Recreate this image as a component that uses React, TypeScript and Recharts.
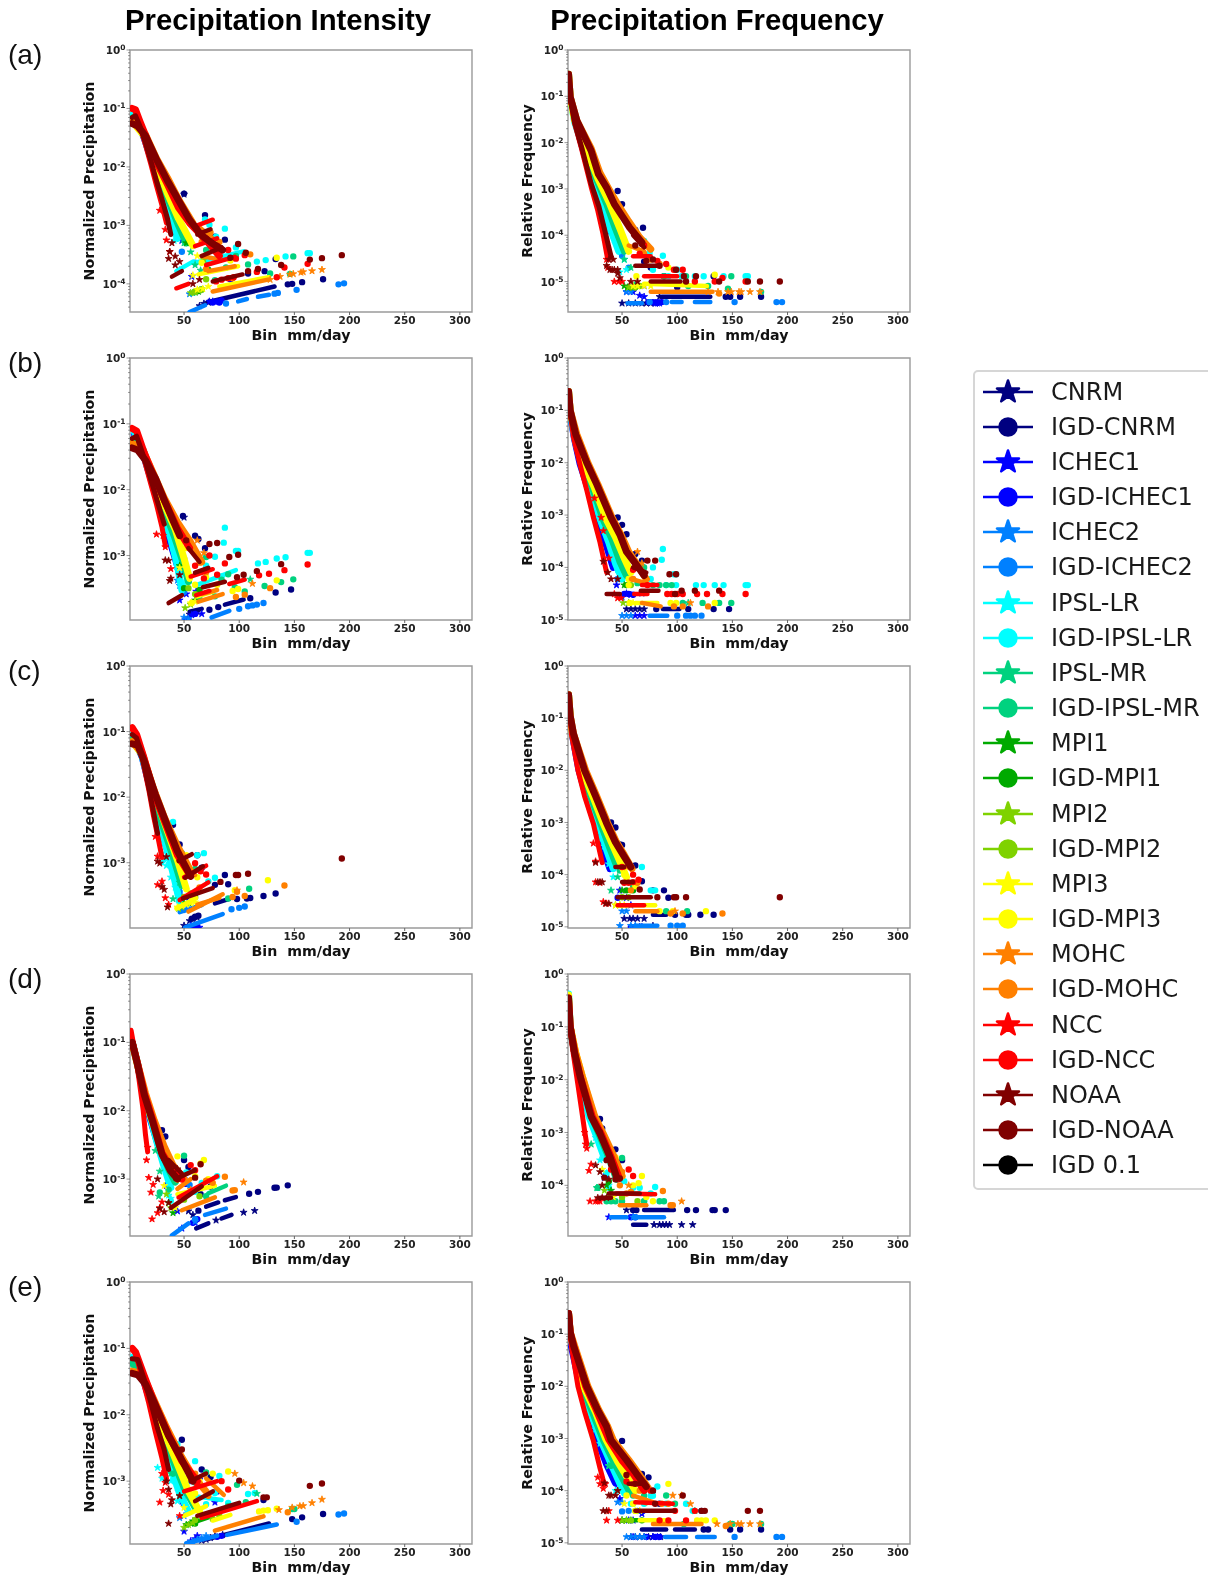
import { ScatterChart, Scatter, XAxis, YAxis, ReferenceArea, Symbols } from 'recharts';

type Pair = [number, number];
type Head = [number, Pair[]];

const seriesNames = ['CNRM', 'IGD-CNRM', 'ICHEC1', 'IGD-ICHEC1', 'ICHEC2', 'IGD-ICHEC2', 'IPSL-LR', 'IGD-IPSL-LR', 'IPSL-MR', 'IGD-IPSL-MR', 'MPI1', 'IGD-MPI1', 'MPI2', 'IGD-MPI2', 'MPI3', 'IGD-MPI3', 'MOHC', 'IGD-MOHC', 'NCC', 'IGD-NCC', 'NOAA', 'IGD-NOAA', 'IGD 0.1'];
const seriesColors = ['#000080', '#000080', '#0000ff', '#0000ff', '#0080ff', '#0080ff', '#00ffff', '#00ffff', '#00d27f', '#00d27f', '#00aa00', '#00aa00', '#7fd200', '#7fd200', '#ffff00', '#ffff00', '#ff8000', '#ff8000', '#ff0000', '#ff0000', '#800000', '#800000', '#000000'];
const rowLetters = ['(a)', '(b)', '(c)', '(d)', '(e)'];
const rowTops = [50, 358, 666, 974, 1282];
const xTicks = [50, 100, 150, 200, 250, 300];
// axis floors, in parts per million
const intensityFloors = [33, 105, 101, 147, 113];
const frequencyFloors = [2.2, 9.9, 9.5, 11, 9.5];

// all y values below are in parts per million (1 = 1e-6)
// heads: dense runs of bins, drawn as one thick stroke per run
const headsIntA: Head[] = [
  [2, [[4, 70000], [10, 50000], [15, 27000], [20, 14000], [30, 3500], [40, 1200], [46, 650]]],
  [6, [[4, 80000], [10, 55000], [15, 28000], [20, 14000], [30, 3300], [38, 1200], [44, 600]]],
  [8, [[4, 70000], [15, 30000], [25, 9000], [35, 3000], [45, 1000], [52, 500]]],
  [14, [[3, 60000], [15, 32000], [25, 11000], [35, 3500], [45, 1300], [58, 450]]],
  [16, [[3, 60000], [15, 36000], [25, 14000], [35, 6500], [45, 2800], [58, 1100]]],
  [18, [[3, 100000], [6, 92000], [10, 50000], [15, 24000], [20, 11000], [25, 4800], [30, 2200], [34, 1100]]],
  [19, [[3, 100000], [6, 95000], [10, 60000], [15, 35000], [25, 12000], [35, 5000], [45, 2000], [55, 1100], [62, 800], [72, 500], [82, 300]]],
  [20, [[3, 70000], [6, 75000], [10, 50000], [15, 26000], [20, 12500], [25, 5800], [30, 2800], [35, 1300], [38, 700]]],
  [21, [[3, 55000], [8, 50000], [15, 34000], [25, 13500], [35, 5800], [45, 2700], [55, 1250], [65, 700], [75, 500], [85, 380]]],
  [1, [[72, 49], [132, 90]]],
  [4, [[55, 33], [69, 43]]],
  [5, [[99, 50], [107, 55]]],
  [5, [[117, 60], [127, 65]]],
  [6, [[43, 165], [58, 240]]],
  [7, [[60, 230], [104, 360]]],
  [15, [[63, 145], [99, 200]]],
  [15, [[82, 90], [127, 130]]],
  [17, [[76, 74], [126, 118]]],
  [17, [[62, 1000], [78, 560]]],
  [17, [[72, 165], [96, 200]]],
  [17, [[66, 300], [82, 260]]],
  [18, [[43, 84], [54, 100]]],
  [19, [[60, 440], [80, 600]]],
  [19, [[70, 210], [96, 290]]],
  [19, [[62, 1000], [76, 1250]]],
  [20, [[39, 133], [48, 165]]],
  [21, [[76, 110], [103, 145]]],
  [21, [[66, 300], [84, 420]]],
  [21, [[62, 700], [74, 860]]],
];
// marks: isolated bins, one marker per reading
const marksIntA: Pair[][] = [
  [[64, 42], [68, 46], [72, 48], [50, 3400]],
  [[144, 98], [148, 100], [157, 107], [176, 120], [50, 3500], [69, 1500], [78, 640], [87, 570], [133, 265], [123, 165], [108, 150]],
  [[46, 680], [48, 550], [57, 133], [46, 170], [73, 50], [76, 50]],
  [[76, 48], [80, 50], [82, 48], [84, 52], [92, 120]],
  [[55, 67], [60, 72]],
  [[88, 46], [132, 68], [135, 70], [152, 79], [190, 98], [195, 102], [48, 355], [60, 230], [70, 240]],
  [[40, 800], [41, 550], [44, 900]],
  [[87, 880], [69, 1270], [73, 1030], [97, 420], [116, 240], [124, 255], [142, 295], [162, 335], [164, 335], [79, 640]],
  [[50, 500], [56, 350], [60, 210], [65, 170], [58, 70]],
  [[149, 295], [108, 215], [97, 300], [128, 150], [146, 148], [88, 190], [78, 115], [70, 380]],
  [[52, 500], [60, 72], [63, 74]],
  [[62, 75], [66, 80], [72, 175]],
  [[56, 70], [60, 72], [64, 78], [68, 260]],
  [[60, 74], [66, 80], [70, 120]],
  [[62, 80], [67, 82], [72, 90], [58, 140], [62, 300]],
  [[134, 280], [66, 230], [76, 460], [92, 250]],
  [[128, 118], [137, 133], [146, 145], [149, 148], [156, 157], [158, 160], [166, 166], [175, 175]],
  [[70, 180], [94, 125], [66, 520], [74, 760], [82, 520], [110, 320]],
  [[28, 1800], [33, 850], [34, 560], [37, 355]],
  [[162, 220], [141, 190], [134, 130], [97, 270], [90, 380], [82, 340], [105, 310], [116, 160], [79, 110], [84, 118], [90, 125], [95, 130], [70, 600], [80, 450]],
  [[58, 100], [64, 118], [39, 500], [37, 355], [36, 270], [42, 295], [46, 240], [42, 210]],
  [[99, 480], [106, 340], [138, 210], [164, 260], [175, 275], [193, 310], [117, 180], [108, 165], [92, 280]],
];

const headsFreqA: Head[] = [
  [2, [[3, 90000], [8, 28000], [16, 5500], [25, 1300], [33, 400], [40, 120]]],
  [6, [[1.5, 300000], [3, 95000], [7, 28000], [16, 6500], [25, 1500], [33, 470], [39, 145], [47, 45]]],
  [8, [[3, 95000], [8, 30000], [17, 6500], [27, 1600], [36, 480], [44, 140], [52, 45]]],
  [14, [[1.5, 300000], [3, 95000], [7, 30000], [18, 6800], [28, 1700], [39, 470], [48, 140], [56, 45]]],
  [17, [[1.5, 300000], [3, 97000], [9, 30000], [22, 7500], [30, 2200], [38, 1000], [46, 470], [56, 200], [66, 90], [76, 50]]],
  [18, [[1.5, 300000], [3, 90000], [7, 26000], [13, 7800], [22, 1100], [28, 340], [33, 100], [37, 30]]],
  [20, [[1.5, 280000], [3, 90000], [7, 27000], [14, 7000], [22, 1300], [29, 420], [35, 110], [40, 35]]],
  [21, [[1.5, 300000], [3, 97000], [9, 30000], [22, 6700], [28.5, 2100], [36, 1070], [43, 470], [51, 240], [57, 145], [68, 70]]],
  [1, [[86, 4.7], [130, 4.7]]],
  [4, [[55, 3.4], [68, 3.4]]],
  [5, [[95, 3.6], [104, 3.6]]],
  [5, [[116, 3.6], [130, 3.6]]],
  [15, [[70, 9], [127, 8]]],
  [17, [[76, 6], [132, 6]]],
  [17, [[56, 60], [70, 45]]],
  [19, [[70, 13], [100, 13]]],
  [19, [[60, 35], [76, 35]]],
  [21, [[76, 10], [103, 10]]],
  [21, [[62, 22], [82, 22]]],
  [21, [[60, 100], [70, 55]]],
];
const marksFreqA: Pair[][] = [
  [[50, 3.4], [56, 3.4], [62, 3.4], [68, 3.4], [72, 3.4], [76, 3.4], [80, 3.4], [84, 4.7]],
  [[46, 900], [50, 470], [62, 130], [69, 145], [144, 4.7], [148, 4.7], [157, 4.7], [176, 4.7], [70, 27], [76, 20], [88, 13], [100, 7.5], [133, 13]],
  [[54, 6], [60, 6], [66, 5], [70, 4.7], [80, 3.4], [82, 3.4], [84, 3.4], [70, 8]],
  [[74, 3.6], [78, 3.6], [82, 3.6], [86, 3.6]],
  [[54, 6], [58, 6]],
  [[75, 3.6], [90, 3.6], [152, 3.6], [190, 3.6], [195, 3.6], [50, 36], [56, 20]],
  [[38, 130], [43, 80], [48, 50], [52, 30], [54, 18], [48, 16]],
  [[87, 36], [70, 75], [75, 42], [100, 18], [116, 13], [124, 13], [142, 13], [162, 13], [164, 13], [78, 18], [92, 13], [104, 13]],
  [[52, 30], [58, 20], [62, 9]],
  [[149, 13], [108, 13], [110, 8], [128, 8], [146, 7], [88, 13], [176, 6]],
  [[52, 8], [55, 7.5]],
  [[58, 7.5], [62, 7.5]],
  [[56, 7.5], [60, 7.5]],
  [[62, 7.5], [66, 8]],
  [[60, 8], [64, 8], [70, 8], [76, 8]],
  [[63, 13], [134, 14], [92, 20]],
  [[128, 6], [137, 6], [146, 6], [149, 6], [156, 6], [158, 6], [166, 6], [175, 6]],
  [[138, 5.5], [70, 40], [76, 30], [84, 24]],
  [[43, 10], [47, 10], [50, 10], [34, 90], [36, 30], [37, 20]],
  [[162, 10], [141, 12], [134, 10], [97, 18], [90, 24], [82, 28], [105, 18], [116, 10], [70, 60], [66, 40]],
  [[39, 18], [41, 18], [43, 18], [46, 18], [48, 12], [38, 30], [36, 22], [42, 30], [46, 15], [58, 10], [64, 10]],
  [[99, 18], [106, 13], [138, 10], [164, 10], [175, 10], [193, 10], [117, 13], [108, 10], [72, 28], [78, 30], [84, 22], [62, 60], [68, 65]],
];

const headsIntB: Head[] = [
  [2, [[5, 70000], [13, 35000], [21, 13000], [30, 4000], [38, 1500], [46, 550]]],
  [6, [[5, 75000], [12, 40000], [20, 15000], [30, 5000], [38, 1800], [44, 700], [48, 300]]],
  [8, [[4, 55000], [13, 40000], [22, 14000], [31, 5500], [41, 2000], [49, 800], [54, 400]]],
  [14, [[3, 50000], [12, 42000], [22, 15000], [32, 6000], [42, 2500], [50, 900], [55, 450]]],
  [17, [[3, 50000], [12, 42000], [22, 18000], [32, 7500], [44, 3200], [55, 1700], [66, 800]]],
  [18, [[3, 85000], [7, 75000], [14, 28000], [20, 12000], [25, 6000], [30, 2700], [33, 1400]]],
  [19, [[3, 85000], [7, 78000], [14, 36000], [22, 17000], [32, 7000], [44, 2600], [55, 1300]]],
  [20, [[3, 60000], [7, 65000], [14, 30000], [20, 14000], [26, 6500], [32, 3000]]],
  [21, [[3, 43000], [8, 40000], [15, 28000], [24, 15000], [32, 7000], [40, 3400], [46, 2000]]],
  [1, [[55, 140], [66, 155]]],
  [1, [[87, 180], [104, 215]]],
  [5, [[75, 115], [91, 145]]],
  [7, [[60, 350], [97, 600]]],
  [15, [[62, 240], [76, 280]]],
  [17, [[63, 200], [85, 260]]],
  [17, [[66, 260], [80, 300]]],
  [17, [[58, 1300], [66, 800]]],
  [19, [[61, 250], [73, 290]]],
  [19, [[91, 370], [105, 430]]],
  [19, [[56, 480], [76, 620]]],
  [20, [[36, 190], [48, 250]]],
  [21, [[67, 330], [87, 400]]],
  [21, [[54, 1300], [64, 800]]],
  [21, [[60, 550], [72, 650]]],
];
const marksIntB: Pair[][] = [
  [[55, 128], [58, 135], [62, 140], [50, 3800]],
  [[73, 150], [81, 165], [110, 225], [133, 275], [147, 305], [63, 1780], [69, 1290], [49, 4000], [60, 2000]],
  [[45, 660], [39, 1650], [52, 260], [61, 285], [46, 210], [57, 125], [51, 105], [66, 130], [42, 1300]],
  [[54, 110], [60, 130], [50, 900]],
  [[46, 350], [54, 110], [50, 115], [44, 420]],
  [[100, 155], [108, 170], [112, 175], [116, 180], [122, 190], [46, 450], [50, 280]],
  [[36, 2600], [40, 1300], [44, 600], [50, 380]],
  [[87, 2650], [86, 1570], [97, 1170], [99, 1170], [78, 960], [117, 760], [124, 800], [134, 900], [142, 940], [162, 1100], [164, 1100], [70, 700], [84, 480]],
  [[110, 435], [50, 650]],
  [[105, 285], [123, 345], [138, 395], [149, 435], [70, 950], [90, 520], [96, 330], [64, 220], [78, 240], [84, 430]],
  [[60, 210], [46, 700]],
  [[50, 320], [64, 300]],
  [[51, 160], [56, 180]],
  [[54, 320], [60, 260]],
  [[56, 190], [60, 200], [46, 650]],
  [[57, 190], [94, 290], [99, 310], [134, 420], [52, 1300], [60, 360], [70, 470], [80, 360]],
  [[112, 375], [68, 1100], [62, 1700]],
  [[97, 235], [105, 255], [128, 320], [70, 560], [64, 780]],
  [[25, 2100], [31, 2000], [33, 1350], [38, 630]],
  [[118, 500], [127, 530], [141, 600], [162, 730], [73, 1000], [87, 760], [60, 700], [68, 450], [80, 510]],
  [[33, 850], [37, 415], [46, 507], [36, 840], [38, 450]],
  [[104, 510], [116, 580], [138, 740], [99, 1030], [91, 950], [80, 1550], [73, 1500], [98, 470], [52, 1700]],
];

const headsFreqB: Head[] = [
  [2, [[3, 85000], [7, 28000], [12, 9500], [19, 3300], [27, 900], [35, 300], [42, 100]]],
  [6, [[1.5, 230000], [3, 90000], [7, 30000], [13, 10000], [21, 3500], [30, 850], [38, 300], [44, 120], [50, 60]]],
  [8, [[3, 92000], [8, 32000], [14, 10000], [23, 3400], [33, 820], [41, 340], [48, 130], [54, 70]]],
  [14, [[1.5, 230000], [3, 95000], [8, 33000], [16, 9000], [25, 3300], [36, 800], [44, 380], [52, 150], [58, 80]]],
  [17, [[1.5, 230000], [3, 100000], [9, 35000], [19, 10000], [28, 3900], [41, 890], [49, 425], [56, 200], [64, 110], [72, 60]]],
  [18, [[1.5, 220000], [3, 85000], [6, 30000], [12, 9000], [18, 3000], [24, 900], [30, 300], [36, 80]]],
  [21, [[1.5, 230000], [3, 100000], [8, 35000], [18, 10000], [27, 3900], [40, 890], [48, 425], [54, 200], [62, 120], [70, 70]]],
  [1, [[87, 16], [102, 16]]],
  [5, [[75, 12], [91, 12]]],
  [15, [[62, 21], [82, 21]]],
  [17, [[68, 21], [85, 18]]],
  [17, [[58, 60], [72, 50]]],
  [19, [[61, 31], [73, 31]]],
  [19, [[68, 46], [82, 46]]],
  [20, [[36, 31], [48, 31]]],
  [21, [[67, 36], [83, 36]]],
  [21, [[60, 100], [72, 80]]],
];
const marksFreqB: Pair[][] = [
  [[54, 16], [58, 16], [62, 16], [66, 16], [70, 16]],
  [[46, 900], [50, 650], [62, 180], [69, 100], [81, 16], [110, 16], [133, 16], [147, 16], [68, 135], [54, 430]],
  [[48, 100], [45, 46], [50, 27], [54, 32], [58, 30], [62, 12], [68, 32], [70, 12], [66, 12]],
  [[52, 31], [56, 31], [60, 30]],
  [[50, 12], [54, 12], [58, 12]],
  [[100, 12], [108, 12], [112, 12], [116, 12], [122, 12], [46, 60]],
  [[42, 260], [46, 90], [50, 60]],
  [[87, 225], [86, 140], [97, 74], [99, 74], [78, 100], [117, 46], [124, 46], [134, 46], [142, 46], [162, 46], [164, 46], [99, 46], [76, 60], [90, 46]],
  [[110, 21]],
  [[105, 21], [123, 21], [138, 21], [149, 21], [70, 100], [90, 46], [95, 46], [64, 50], [78, 46], [84, 46]],
  [[52, 46]],
  [[54, 46]],
  [[51, 21], [56, 21]],
  [[58, 46]],
  [[60, 21]],
  [[57, 21], [94, 21], [99, 21], [134, 21], [56, 60], [62, 100], [56, 46], [60, 140]],
  [[112, 21], [68, 120], [64, 200]],
  [[97, 18], [105, 18], [128, 18], [60, 60]],
  [[25, 2100], [31, 900], [33, 500], [38, 150], [43, 31], [46, 26], [49, 26]],
  [[91, 31], [95, 31], [100, 31], [105, 31], [118, 31], [127, 31], [141, 31], [162, 31], [73, 46], [60, 90], [70, 75]],
  [[33, 130], [37, 80], [40, 60], [46, 60]],
  [[104, 36], [116, 36], [138, 36], [93, 74], [99, 74], [80, 135], [73, 135], [98, 31]],
];

const headsIntC: Head[] = [
  [2, [[4, 85000], [12, 41000], [20, 12500], [28, 3800], [37, 1200], [44, 450]]],
  [6, [[4, 90000], [12, 42000], [20, 13000], [28, 4000], [36, 1300], [42, 500], [46, 250]]],
  [8, [[3, 75000], [12, 44000], [21, 13000], [30, 4000], [40, 1250], [48, 450]]],
  [14, [[3, 70000], [12, 45000], [22, 13000], [32, 4200], [44, 1100], [52, 400]]],
  [17, [[3, 70000], [12, 47000], [22, 14000], [32, 5000], [44, 1800], [56, 750]]],
  [18, [[3, 115000], [7, 85000], [12, 40000], [18, 13000], [22, 5500], [26, 2600], [30, 1200]]],
  [19, [[3, 115000], [7, 90000], [14, 38000], [24, 10000], [34, 3600], [44, 1300], [54, 700]]],
  [20, [[3, 90000], [7, 80000], [12, 42000], [18, 14000], [22, 6300], [26, 2800]]],
  [21, [[3, 65000], [8, 62000], [14, 35000], [24, 11000], [34, 4000], [44, 1500], [56, 620]]],
  [1, [[78, 240], [91, 280]]],
  [5, [[51, 103], [85, 165]]],
  [5, [[46, 176], [66, 225]]],
  [7, [[30, 1000], [38, 1400]]],
  [15, [[43, 200], [61, 290]]],
  [17, [[54, 180], [85, 330]]],
  [17, [[62, 230], [82, 290]]],
  [17, [[44, 1300], [60, 650]]],
  [19, [[46, 270], [72, 500]]],
  [19, [[50, 600], [70, 900]]],
  [21, [[49, 285], [76, 410]]],
  [21, [[51, 590], [67, 880]]],
  [21, [[45, 1060], [57, 1350]]],
];
const marksIntC: Pair[][] = [
  [[50, 110], [55, 130], [58, 140], [62, 145]],
  [[57, 140], [60, 150], [63, 155], [110, 290], [107, 285], [122, 310], [133, 340], [87, 650], [90, 470], [98, 280], [40, 3800], [46, 1900], [62, 1300], [66, 840], [78, 460]],
  [[48, 300], [56, 110], [60, 105], [64, 103], [46, 500], [36, 2000]],
  [[52, 300], [58, 105], [62, 103]],
  [[48, 195], [52, 190]],
  [[93, 195], [100, 205], [105, 215], [46, 360]],
  [[30, 1400], [34, 900], [38, 600], [42, 420]],
  [[68, 1400], [62, 1300], [78, 590], [72, 520], [42, 2100], [40, 4200]],
  [[46, 500], [40, 280]],
  [[90, 285], [109, 400], [60, 800], [48, 1400]],
  [[50, 240]],
  [[54, 240], [60, 300]],
  [[45, 200], [48, 210]],
  [[50, 300], [56, 340]],
  [[44, 210], [48, 220], [52, 230], [56, 240], [60, 250]],
  [[58, 300], [126, 540], [52, 1300], [62, 600], [96, 380]],
  [[54, 750], [98, 380]],
  [[98, 360], [105, 310], [141, 450], [94, 300], [58, 700], [64, 420]],
  [[26, 460], [30, 520], [33, 290], [36, 230], [24, 2500], [26, 1250]],
  [[60, 980], [65, 740], [70, 660]],
  [[30, 430], [32, 390], [35, 210], [34, 1230], [26, 1050], [28, 980]],
  [[83, 510], [97, 650], [99, 650], [108, 680], [193, 1160]],
];

const headsFreqC: Head[] = [
  [2, [[5, 48000], [11, 10000], [18, 3000], [26, 900], [33, 320], [39, 130]]],
  [6, [[1.5, 280000], [3, 110000], [5, 50000], [12, 10000], [20, 3000], [29, 900], [36, 300], [42, 130]]],
  [8, [[5, 50000], [13, 10000], [22, 3000], [31, 920], [39, 320], [45, 150]]],
  [14, [[1.5, 280000], [3, 110000], [5, 50000], [14, 10000], [24, 3000], [33, 950], [42, 350], [48, 180], [54, 90]]],
  [17, [[1.5, 280000], [3, 110000], [6, 50000], [17, 10000], [27, 3200], [37, 970], [45, 420], [52, 240], [59, 130]]],
  [18, [[1.5, 270000], [3, 100000], [4, 50000], [10, 10000], [16, 3200], [24, 950], [28, 400], [32, 170]]],
  [21, [[1.5, 280000], [3, 110000], [6, 50000], [16, 10000], [26, 3200], [36, 970], [44, 420], [51, 240], [58, 140]]],
  [1, [[78, 17], [90, 17]]],
  [5, [[62, 10.5], [82, 10.5]]],
  [15, [[46, 26], [80, 26]]],
  [17, [[62, 20], [82, 20]]],
  [19, [[46, 26], [70, 26]]],
  [21, [[46, 37], [76, 37]]],
  [21, [[44, 140], [52, 140]]],
  [21, [[50, 72], [60, 72]]],
];
const marksFreqC: Pair[][] = [
  [[52, 14.4], [57, 14.4], [60, 14.4], [64, 14.4], [70, 14.4], [78, 10.5]],
  [[44, 800], [34, 1300], [48, 380], [62, 150], [68, 75], [78, 50], [88, 50], [92, 36], [98, 17], [108, 17], [110, 17], [121, 17], [133, 17], [40, 1000], [50, 370]],
  [[46, 150], [48, 50], [54, 36], [58, 26], [62, 10], [66, 10], [68, 10]],
  [[58, 10], [62, 10], [46, 36]],
  [[48, 10.5], [50, 20], [54, 20], [58, 10.5], [62, 10.5]],
  [[94, 10.5], [100, 10.5], [105, 10.5]],
  [[30, 500], [34, 350], [38, 160], [42, 90]],
  [[68, 140], [62, 70], [34, 720], [30, 500], [76, 50], [80, 50]],
  [[46, 90], [40, 50]],
  [[90, 20], [109, 20], [60, 60], [48, 120]],
  [[50, 50]],
  [[54, 50], [60, 50]],
  [[44, 26], [48, 26]],
  [[50, 37], [56, 37]],
  [[44, 26], [48, 26], [52, 26]],
  [[84, 20], [96, 20], [126, 20], [52, 100], [62, 60]],
  [[54, 140], [98, 20]],
  [[94, 18], [105, 18], [141, 18], [58, 50], [64, 70]],
  [[26, 180], [30, 70], [33, 30], [36, 28], [24, 400], [26, 72]],
  [[52, 70], [56, 70], [60, 72], [50, 140], [60, 100], [65, 80]],
  [[30, 72], [32, 72], [35, 28], [38, 28], [26, 170], [28, 72]],
  [[66, 52], [82, 37], [97, 37], [99, 37], [108, 37], [193, 37]],
];

const headsIntD: Head[] = [
  [2, [[3, 95000], [8, 46000], [14, 16000], [20, 7000], [27, 3000], [34, 1400]]],
  [6, [[3, 100000], [8, 48000], [14, 17000], [20, 7500], [26, 3200], [32, 1500], [38, 750]]],
  [8, [[3, 100000], [8, 47000], [14, 17000], [21, 7500], [28, 3000], [36, 1400], [42, 900]]],
  [14, [[3, 95000], [8, 45000], [14, 18000], [20, 8000], [28, 3400], [36, 1700], [44, 1000]]],
  [16, [[3, 100000], [8, 48000], [15, 18000], [23, 7200], [32, 3000], [40, 1600], [50, 1000]]],
  [18, [[2, 150000], [5, 80000], [9, 30000], [13, 10000], [15, 4500], [17, 2500]]],
  [19, [[3, 100000], [8, 48000], [14, 18000], [22, 7000], [30, 2400], [40, 1300], [48, 1000]]],
  [21, [[3, 100000], [8, 46000], [14, 17000], [22, 6500], [30, 2300], [38, 1300], [44, 1000]]],
  [0, [[61, 190], [72, 225]]],
  [0, [[84, 265], [93, 300]]],
  [1, [[70, 395], [81, 455]]],
  [1, [[87, 490], [97, 545]]],
  [4, [[39, 150], [54, 225]]],
  [5, [[69, 300], [88, 370]]],
  [9, [[72, 620], [88, 800]]],
  [15, [[44, 600], [78, 800]]],
  [17, [[48, 350], [78, 540]]],
  [17, [[44, 720], [56, 1000]]],
  [19, [[45, 540], [80, 1100]]],
  [21, [[38, 380], [66, 780]]],
  [21, [[36, 1900], [48, 1200]]],
  [21, [[42, 1000], [60, 1350]]],
];
const marksIntD: Pair[][] = [
  [[54, 340], [79, 250], [104, 325], [114, 345], [58, 300]],
  [[63, 345], [109, 610], [117, 650], [132, 745], [134, 750], [144, 810], [30, 5200], [33, 4200], [50, 1900], [54, 1500], [65, 600], [74, 780]],
  [[44, 340], [48, 190], [60, 230], [34, 800], [50, 1000]],
  [[58, 230], [62, 260], [35, 820], [52, 850]],
  [[60, 240]],
  [[60, 260], [55, 820]],
  [[26, 3600], [30, 2000], [36, 580], [38, 520]],
  [[80, 1100], [60, 650], [38, 480], [36, 720], [66, 880], [52, 1250]],
  [[24, 2600], [28, 1300], [27, 560]],
  [[50, 2200], [70, 560], [36, 700], [28, 640]],
  [[36, 450], [40, 320]],
  [[44, 1200], [38, 1700]],
  [[34, 600], [38, 380]],
  [[50, 500], [64, 560]],
  [[42, 380], [32, 800]],
  [[68, 1900], [65, 1700], [44, 2150], [60, 1100], [72, 1000]],
  [[104, 900], [56, 700]],
  [[96, 690], [94, 680], [87, 1080], [70, 950], [76, 880]],
  [[21, 260], [20, 640], [22, 830], [18, 1050], [16, 1900], [17, 2900], [28, 380], [30, 460], [26, 320]],
  [[56, 1600], [60, 1350]],
  [[28, 370], [32, 330], [36, 450], [38, 1400], [26, 1000], [44, 1400]],
  [[65, 1650], [60, 1050], [32, 2000]],
];

const headsFreqD: Head[] = [
  [6, [[1.5, 420000], [3, 100000], [7, 32000], [12, 11500], [20, 2000], [26, 950], [34, 330]]],
  [8, [[3, 100000], [7, 32000], [13, 11500], [22, 2100], [29, 950], [38, 340], [45, 130]]],
  [14, [[1.5, 400000], [3, 100000], [8, 32000], [14, 11500], [24, 2200], [32, 1000], [42, 350], [50, 150]]],
  [16, [[3, 100000], [8, 32000], [14, 11500], [25, 2100], [33, 950], [43, 340], [50, 150]]],
  [18, [[1.5, 350000], [2, 200000], [5, 40000], [10, 8000], [13, 3000], [16, 1100], [18, 600]]],
  [19, [[1.5, 350000], [3, 100000], [7, 32000], [12, 11500], [23, 2000], [31, 955], [40, 347], [47, 145]]],
  [21, [[1.5, 350000], [3, 100000], [7, 32000], [12, 11500], [22, 2000], [30, 955], [39, 347], [45, 145]]],
  [0, [[60, 18], [72, 18]]],
  [1, [[70, 34], [97, 34]]],
  [5, [[40, 25], [54, 25]]],
  [5, [[62, 25], [88, 25]]],
  [17, [[48, 42], [72, 42]]],
  [19, [[45, 70], [80, 68]]],
  [21, [[38, 70], [66, 70]]],
  [21, [[30, 58], [40, 58]]],
];
const marksFreqD: Pair[][] = [
  [[54, 34], [79, 18], [84, 18], [87, 18], [90, 18], [93, 18], [104, 18], [114, 18]],
  [[60, 34], [63, 34], [109, 34], [117, 34], [132, 34], [134, 34], [144, 34], [30, 1800], [32, 1200], [50, 300], [44, 480]],
  [[38, 25], [60, 25], [34, 140], [48, 130]],
  [[58, 25], [62, 25], [35, 150]],
  [[60, 25]],
  [[62, 25]],
  [[26, 800], [30, 300], [36, 170], [38, 100]],
  [[80, 93], [60, 90], [38, 90], [36, 170], [66, 90], [52, 120], [70, 50], [76, 70]],
  [[22, 600], [28, 90], [27, 90]],
  [[88, 50], [84, 50], [50, 330], [70, 50], [36, 50], [28, 90], [44, 50], [40, 50], [50, 50]],
  [[36, 100], [40, 80]],
  [[44, 220], [38, 120]],
  [[34, 80], [38, 60]],
  [[50, 60], [64, 50]],
  [[42, 60], [32, 200]],
  [[68, 150], [65, 110], [44, 340], [78, 50], [60, 100], [72, 60]],
  [[104, 50], [56, 100]],
  [[96, 42], [94, 42], [87, 78], [48, 100], [54, 70], [50, 180], [58, 75]],
  [[21, 50], [20, 190], [22, 250], [18, 500], [16, 1000], [17, 600], [28, 50], [30, 50], [26, 50]],
  [[56, 200], [40, 200], [46, 130], [60, 150]],
  [[28, 58], [32, 58], [36, 58], [38, 130], [26, 240], [30, 180], [32, 100]],
  [[44, 130], [48, 135], [36, 300], [40, 250], [30, 1000], [34, 140]],
];

const headsIntE: Head[] = [
  [2, [[4, 70000], [12, 38000], [20, 15000], [30, 4200], [40, 1400], [50, 450]]],
  [6, [[4, 75000], [12, 40000], [20, 16000], [30, 4500], [38, 1600], [46, 650], [54, 350]]],
  [8, [[3, 60000], [12, 39000], [21, 15500], [31, 5000], [42, 1700], [50, 800], [60, 400]]],
  [14, [[3, 45000], [12, 40000], [22, 15000], [32, 5500], [44, 1800], [54, 700], [64, 350]]],
  [17, [[3, 45000], [12, 42000], [22, 18000], [34, 6500], [46, 2600], [58, 1200], [70, 700]]],
  [18, [[3, 100000], [6, 85000], [12, 36000], [18, 15000], [24, 5500], [30, 2200], [34, 1100]]],
  [19, [[3, 100000], [6, 88000], [14, 38000], [24, 14000], [36, 5000], [48, 2000], [62, 1000]]],
  [20, [[3, 70000], [8, 68000], [14, 34000], [20, 15000], [26, 6200], [32, 3000], [36, 1500]]],
  [21, [[3, 42000], [8, 40000], [15, 29000], [24, 14000], [36, 4800], [46, 2400], [58, 1000]]],
  [1, [[72, 135], [127, 230]]],
  [5, [[52, 116], [80, 150]]],
  [5, [[89, 155], [134, 222]]],
  [7, [[58, 600], [84, 520]]],
  [11, [[52, 220], [72, 285]]],
  [15, [[76, 255], [92, 310]]],
  [15, [[50, 300], [70, 420]]],
  [17, [[78, 180], [122, 295]]],
  [17, [[70, 1100], [86, 620]]],
  [19, [[66, 280], [116, 500]]],
  [19, [[50, 700], [80, 1000]]],
  [21, [[62, 300], [100, 470]]],
  [21, [[56, 1000], [70, 1300]]],
  [21, [[60, 500], [76, 700]]],
];
const marksIntE: Pair[][] = [
  [[66, 128], [70, 132], [74, 140], [78, 148], [85, 155]],
  [[148, 268], [157, 285], [176, 320], [66, 1500], [74, 1150], [48, 4200], [122, 520]],
  [[44, 800], [46, 620], [48, 500], [62, 150], [50, 175], [56, 125], [60, 135], [78, 480], [64, 1050]],
  [[80, 145], [84, 150], [80, 700], [44, 1100]],
  [[54, 115], [58, 122], [62, 132], [66, 140], [70, 150], [46, 280], [50, 300]],
  [[152, 245], [190, 315], [195, 325], [56, 1000]],
  [[26, 1600], [30, 1100], [38, 1000], [44, 500]],
  [[44, 3600], [58, 1200], [60, 2000], [82, 1200], [78, 660], [90, 470], [108, 640], [114, 660], [70, 450]],
  [[116, 650], [38, 1300], [46, 600]],
  [[148, 380], [150, 380], [106, 480], [98, 880], [90, 420], [70, 1350], [60, 950], [40, 1300]],
  [[60, 240], [58, 250], [52, 220], [56, 230]],
  [[60, 230]],
  [[50, 200], [54, 220], [58, 235]],
  [[60, 260], [76, 270], [82, 300]],
  [[50, 400], [66, 300]],
  [[118, 350], [122, 360], [126, 365], [134, 385], [90, 1400], [66, 850], [54, 1100], [60, 650], [64, 1000], [76, 1300]],
  [[96, 1300], [104, 940], [112, 840], [136, 370], [148, 400], [155, 420], [158, 425], [166, 470], [175, 530]],
  [[144, 340], [72, 600], [60, 1300]],
  [[46, 300], [30, 1300], [33, 950], [31, 720], [28, 480], [36, 630]],
  [[90, 750], [62, 900], [84, 1000]],
  [[36, 230], [38, 450], [36, 750], [39, 520], [46, 600], [34, 1000]],
  [[100, 1020], [125, 570], [122, 570], [164, 850], [175, 920], [48, 3000]],
];

const headsFreqE: Head[] = [
  [2, [[4, 60000], [12, 10000], [19, 3300], [28, 900], [36, 320], [44, 140]]],
  [6, [[1.5, 250000], [3, 100000], [5, 60000], [13, 10000], [21, 3300], [31, 900], [40, 330], [46, 170], [52, 90]]],
  [8, [[5, 60000], [14, 10000], [23, 3300], [33, 950], [43, 340], [50, 180], [57, 95]]],
  [14, [[1.5, 250000], [3, 105000], [6, 60000], [15, 10000], [26, 3200], [35, 1000], [46, 360], [54, 190], [62, 100]]],
  [17, [[1.5, 250000], [3, 110000], [7, 60000], [19, 10000], [29, 3500], [37, 1700], [42, 930], [56, 390], [65, 213], [74, 110]]],
  [18, [[1.5, 240000], [3, 90000], [4, 60000], [10, 10000], [16, 3300], [24, 900], [30, 270], [34, 130]]],
  [19, [[1.5, 250000], [3, 105000], [6, 60000], [17, 10000], [27, 3400], [38, 950], [50, 380], [60, 210], [70, 100]]],
  [21, [[1.5, 250000], [3, 110000], [6, 60000], [18, 10000], [28, 3500], [36, 1700], [40, 930], [54, 390], [63, 213], [72, 120]]],
  [1, [[68, 18], [90, 18]]],
  [1, [[98, 18], [116, 18]]],
  [5, [[89, 13], [108, 13]]],
  [5, [[118, 13], [134, 13]]],
  [11, [[50, 27], [64, 27]]],
  [15, [[66, 27], [92, 27]]],
  [17, [[78, 23], [122, 23]]],
  [17, [[60, 80], [78, 60]]],
  [19, [[62, 60], [96, 56]]],
  [21, [[62, 41], [98, 41]]],
  [21, [[56, 135], [68, 135]]],
];
const marksFreqE: Pair[][] = [
  [[66, 13], [70, 13], [74, 13], [78, 13], [85, 13], [62, 13], [58, 13]],
  [[124, 18], [128, 18], [148, 18], [157, 18], [176, 18], [68, 210], [74, 180], [50, 900], [78, 100], [122, 41], [84, 56]],
  [[44, 200], [46, 130], [48, 70], [60, 27], [50, 27], [56, 27], [60, 13], [78, 13], [82, 13], [68, 36]],
  [[80, 13], [84, 13], [72, 13], [48, 150]],
  [[54, 13], [58, 13], [62, 13], [66, 13], [70, 13], [46, 60], [50, 60]],
  [[152, 13], [190, 13], [195, 13], [50, 40], [56, 41], [64, 41]],
  [[26, 1500], [30, 800], [38, 300], [44, 100]],
  [[50, 130], [58, 56], [60, 56], [82, 120], [78, 80], [90, 56], [108, 56], [70, 56], [76, 80], [114, 41], [45, 300]],
  [[116, 41], [38, 300], [46, 100]],
  [[148, 23], [150, 23], [176, 23], [106, 23], [98, 56], [90, 81], [70, 80], [60, 81], [40, 300]],
  [[50, 27], [54, 27], [58, 27]],
  [[68, 27]],
  [[50, 27], [54, 27]],
  [[58, 27], [62, 41]],
  [[52, 56], [66, 41]],
  [[62, 41], [118, 27], [122, 27], [126, 27], [134, 27], [92, 135], [54, 81], [60, 56]],
  [[96, 81], [104, 81], [112, 56], [136, 23], [148, 23], [155, 23], [158, 23], [166, 23], [175, 23]],
  [[144, 21], [86, 56], [92, 56], [72, 60], [66, 100], [60, 135]],
  [[46, 27], [30, 135], [33, 110], [38, 41], [36, 27], [28, 180], [35, 135]],
  [[84, 27], [92, 27], [98, 41], [108, 27], [116, 41], [70, 135], [54, 150], [76, 100]],
  [[36, 41], [38, 81], [40, 81], [44, 81], [46, 100], [34, 140], [33, 41]],
  [[105, 81], [122, 41], [125, 41], [164, 41], [175, 41], [62, 135], [78, 100], [80, 56], [54, 200]],
];

const intensityRows: [Head[], Pair[][]][] = [[headsIntA, marksIntA], [headsIntB, marksIntB], [headsIntC, marksIntC], [headsIntD, marksIntD], [headsIntE, marksIntE]];
const frequencyRows: [Head[], Pair[][]][] = [[headsFreqA, marksFreqA], [headsFreqB, marksFreqB], [headsFreqC, marksFreqC], [headsFreqD, marksFreqD], [headsFreqE, marksFreqE]];

const toPoints = (rows: Pair[]) => rows.map(([x, y]) => ({ x, y: y * 1e-6 }));

// decades and their minor ticks down to the axis floor
function logTicks(floor: number) {
  const ticks: number[] = [];
  for (let exp = 0; exp >= -7; exp--) {
    for (const m of [1, 2, 3, 4, 5, 6, 7, 8, 9]) {
      const v = m * Math.pow(10, exp);
      if (v <= 1 && v >= floor) ticks.push(v);
    }
  }
  return ticks;
}

const font = '"DejaVu Sans", sans-serif';

function YTick({ x, y, payload }: any) {
  const exp = Math.log10(payload.value);
  const major = Math.abs(exp - Math.round(exp)) < 1e-6;
  const edge = x + 6; // recharts leaves the tick x short of the plot edge
  return (
    <g>
      <line x1={edge} x2={edge - (major ? 3.5 : 2)} y1={y} y2={y} stroke="#555" strokeWidth={0.6} />
      {major && (
        <text x={edge - 4.5} y={y + 4} textAnchor="end" fontFamily={font} fontWeight="bold" fontSize={10.5} fill="#222">
          10<tspan dy={-4} fontSize={7.5}>{Math.round(exp)}</tspan>
        </text>
      )}
    </g>
  );
}

const starMark = (p: any) => <Symbols cx={p.cx} cy={p.cy} type="star" size={15} fill={p.fill} stroke={p.fill} strokeWidth={0.8} />;
const dotMark = (p: any) => <Symbols cx={p.cx} cy={p.cy} type="circle" size={32} fill={p.fill} />;

function Panel({ row, kind, left }: { row: number; kind: 'intensity' | 'frequency'; left: number }) {
  const isIntensity = kind === 'intensity';
  const [heads, marks] = isIntensity ? intensityRows[row] : frequencyRows[row];
  const floor = (isIntensity ? intensityFloors[row] : frequencyFloors[row]) * 1e-6;
  return (
    <div style={{ position: 'absolute', left, top: rowTops[row] - 10 }}>
      <ScatterChart width={412} height={308} margin={{ top: 10, right: 10, bottom: 0, left: 0 }}>
        <XAxis
          type="number"
          dataKey="x"
          domain={[1, 311]}
          ticks={xTicks}
          allowDataOverflow
          height={36}
          axisLine={false}
          tickSize={3}
          tick={{ fontFamily: font, fontWeight: 'bold', fontSize: 10.5, fill: '#222' }}
          tickMargin={2}
          label={{ value: 'Bin\u00a0\u00a0mm/day', position: 'insideBottom', offset: 8, style: { fontFamily: font, fontWeight: 'bold', fontSize: 14.2, fill: '#111' } }}
        />
        <YAxis
          type="number"
          dataKey="y"
          scale="log"
          domain={[floor, 1]}
          ticks={logTicks(floor)}
          interval={0}
          allowDataOverflow
          width={60}
          axisLine={false}
          tickLine={false}
          tickMargin={0}
          tick={<YTick />}
          label={{
            value: isIntensity ? 'Normalized Precipitation' : 'Relative Frequency',
            angle: -90,
            position: 'insideLeft',
            offset: 19,
            style: { textAnchor: 'middle', fontFamily: font, fontWeight: 'bold', fontSize: 14.2, fill: '#111' },
          }}
        />
        <ReferenceArea x1={1} x2={311} y1={floor} y2={1} fill="none" stroke="#9a9a9a" strokeWidth={1.4} />
        {marks.map((points, i) => {
          const color = seriesColors[i];
          return [
            ...heads.filter(([s]) => s === i).map(([, run], j) => (
              <Scatter
                key={`h${i}-${j}`}
                data={toPoints(run)}
                isAnimationActive={false}
                fill={color}
                line={{ stroke: color, strokeWidth: run.length > 2 ? (i === 18 || i === 20 ? 5 : 7) : 4.5, strokeLinecap: 'round', strokeLinejoin: 'round' }}
                shape={() => null}
              />
            )),
            <Scatter
              key={`m${i}`}
              data={toPoints(points)}
              isAnimationActive={false}
              fill={color}
              shape={i % 2 === 0 ? starMark : dotMark}
            />,
          ];
        })}
      </ScatterChart>
    </div>
  );
}

function LegendBox() {
  return (
    <div style={{ position: 'absolute', left: 973, top: 370, width: 240, height: 816, border: '2px solid #d6d6d6', borderRadius: 5, background: '#fff' }}>
      {seriesNames.map((name, i) => {
        const cy = 19.5 + i * 35.17;
        const color = seriesColors[i];
        const isStar = i % 2 === 0 && i < 22;
        return (
          <div key={name} style={{ position: 'absolute', left: 0, top: cy - 16, height: 32, width: 238 }}>
            <svg width={70} height={32} style={{ position: 'absolute', left: 0, top: 0 }}>
              <line x1={8} x2={58} y1={16} y2={16} stroke={color} strokeWidth={2.5} />
              <Symbols cx={33} cy={16} type={isStar ? 'star' : 'circle'} size={isStar ? 150 : 300} fill={color} stroke={color} strokeWidth={isStar ? 2.5 : 0} strokeLinejoin="round" />
            </svg>
            <span style={{ position: 'absolute', left: 76, top: 1, fontFamily: font, fontSize: 24, lineHeight: '30px', color: '#1a1a1a', whiteSpace: 'nowrap' }}>{name}</span>
          </div>
        );
      })}
    </div>
  );
}

const titleStyle = { position: 'absolute', top: 3, fontFamily: '"Liberation Sans", sans-serif', fontWeight: 'bold', fontSize: 29.3, lineHeight: '34px', color: '#000', whiteSpace: 'nowrap', transform: 'translateX(-50%)' } as const;

export default function App() {
  return (
    <div style={{ position: 'absolute', left: 0, top: 0, width: 1208, height: 1578, overflow: 'hidden', background: '#fff', filter: 'blur(0.55px)' }}>
      <div style={{ ...titleStyle, left: 278 }}>Precipitation Intensity</div>
      <div style={{ ...titleStyle, left: 717 }}>Precipitation Frequency</div>
      {rowLetters.map((letter, row) => (
        <div key={letter} style={{ position: 'absolute', left: 8, top: rowTops[row] - 11, fontFamily: '"Liberation Sans", sans-serif', fontSize: 28, lineHeight: '32px', color: '#111' }}>{letter}</div>
      ))}
      {rowTops.map((_, row) => <Panel key={`i${row}`} row={row} kind="intensity" left={70} />)}
      {rowTops.map((_, row) => <Panel key={`f${row}`} row={row} kind="frequency" left={508} />)}
      <LegendBox />
    </div>
  );
}
